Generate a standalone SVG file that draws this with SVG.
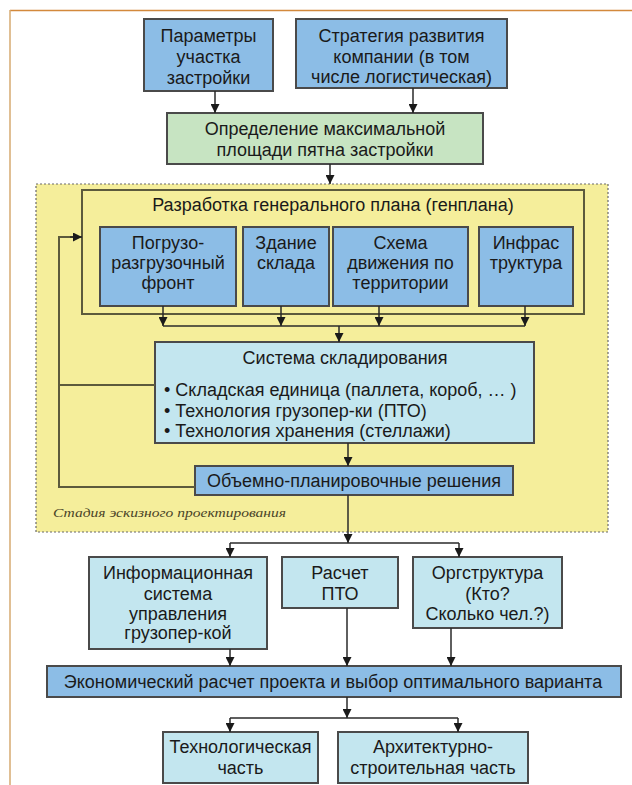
<svg xmlns="http://www.w3.org/2000/svg" width="632" height="785" viewBox="0 0 632 785">
<defs>
<marker id="ah" viewBox="0 0 10 10" markerWidth="9" markerHeight="9" refX="10" refY="5" orient="auto" markerUnits="userSpaceOnUse">
<path d="M0,0 L10,5 L0,10 z" fill="#1a1a1a"/>
</marker>
<style>
.t{font-family:"Liberation Sans",Arial,sans-serif;font-size:18px;fill:#1a1a1a;text-anchor:middle}
.tl{font-family:"Liberation Sans",Arial,sans-serif;font-size:18px;fill:#1a1a1a}
.blue{fill:#8cbde6;stroke:#4a4a4a;stroke-width:2}
.cyan{fill:#c3e6ef;stroke:#4a4a4a;stroke-width:2}
.green{fill:#c7e4c2;stroke:#4a4a4a;stroke-width:2}
.c{fill:none;stroke:#2a2a2a;stroke-width:1.5}
.a{fill:none;stroke:#2a2a2a;stroke-width:1.5;marker-end:url(#ah)}
.fb{fill:none;stroke:#5c5a3c;stroke-width:2}
</style>
</defs>
<rect width="632" height="785" fill="#ffffff"/>
<line x1="10" y1="10.5" x2="632" y2="10.5" stroke="#d3893c" stroke-width="1.5"/>
<line x1="10" y1="10" x2="10" y2="785" stroke="#d6aa70" stroke-width="1.5"/>

<g id="stage">
<rect x="36" y="184" width="572" height="348" fill="#f5ee9b" stroke="#6a6a6a" stroke-width="1.2" stroke-dasharray="2,2"/>
<text x="53" y="517" font-family="Liberation Serif,serif" font-style="italic" font-size="13" fill="#4a4428" textLength="233" lengthAdjust="spacingAndGlyphs">Стадия эскизного проектирования</text>
</g>

<g id="n1"><rect class="blue" x="144" y="19" width="129" height="72"/>
<text class="t" x="208.5" y="42">Параметры</text><text class="t" x="208.5" y="63">участка</text><text class="t" x="208.5" y="84">застройки</text></g>
<g id="n2"><rect class="blue" x="296" y="19" width="211" height="69"/>
<text class="t" x="401.5" y="42">Стратегия развития</text><text class="t" x="401.5" y="63">компании (в том</text><text class="t" x="401.5" y="83">числе логистическая)</text></g>
<g id="n3"><rect class="green" x="167" y="113" width="316" height="51"/>
<text class="t" x="325" y="135">Определение максимальной</text><text class="t" x="325" y="156">площади пятна застройки</text></g>

<g id="genplan"><rect x="82" y="190" width="502" height="124" fill="none" stroke="#5c5a3c" stroke-width="2"/>
<text class="t" x="333" y="211">Разработка генерального плана (генплана)</text></g>
<g id="n4"><rect class="blue" x="100" y="227" width="136" height="79"/>
<text class="t" x="168" y="249">Погрузо-</text><text class="t" x="168" y="269">разгрузочный</text><text class="t" x="168" y="289">фронт</text></g>
<g id="n5"><rect class="blue" x="243" y="227" width="86" height="79"/>
<text class="t" x="286" y="249">Здание</text><text class="t" x="286" y="269">склада</text></g>
<g id="n6"><rect class="blue" x="333" y="227" width="135" height="79"/>
<text class="t" x="400.5" y="249">Схема</text><text class="t" x="400.5" y="269">движения по</text><text class="t" x="400.5" y="289">территории</text></g>
<g id="n7"><rect class="blue" x="479" y="227" width="94" height="79"/>
<text class="t" x="526" y="249">Инфрас</text><text class="t" x="526" y="269">труктура</text></g>

<g id="n8"><rect class="cyan" x="155" y="342" width="379" height="101"/>
<text class="t" x="345" y="364">Система складирования</text>
<text class="tl" x="164" y="396">• Складская единица (паллета, короб, … )</text>
<text class="tl" x="164" y="417">• Технология грузопер-ки (ПТО)</text>
<text class="tl" x="164" y="437">• Технология хранения (стеллажи)</text></g>
<g id="n9"><rect class="blue" x="195" y="466" width="318" height="29"/>
<text class="t" x="354" y="487">Объемно-планировочные решения</text></g>

<g id="n10"><rect class="cyan" x="89" y="557" width="178" height="92"/>
<text class="t" x="178" y="579">Информационная</text><text class="t" x="178" y="600">система</text><text class="t" x="178" y="620">управления</text><text class="t" x="178" y="639">грузопер-кой</text></g>
<g id="n11"><rect class="cyan" x="282" y="557" width="116" height="51"/>
<text class="t" x="340" y="579">Расчет</text><text class="t" x="340" y="600">ПТО</text></g>
<g id="n12"><rect class="cyan" x="413" y="557" width="149" height="71"/>
<text class="t" x="487.5" y="579">Оргструктура</text><text class="t" x="487.5" y="600">(Кто?</text><text class="t" x="487.5" y="620">Сколько чел.?)</text></g>
<g id="n13"><rect class="blue" x="47" y="666" width="574" height="31"/>
<text class="t" x="333" y="688">Экономический расчет проекта и выбор оптимального варианта</text></g>
<g id="n14"><rect class="cyan" x="163" y="732" width="155" height="51"/>
<text class="t" x="240.5" y="753">Технологическая</text><text class="t" x="240.5" y="774">часть</text></g>
<g id="n15"><rect class="cyan" x="338" y="732" width="190" height="51"/>
<text class="t" x="433" y="753">Архитектурно-</text><text class="t" x="433" y="774">строительная часть</text></g>

<g id="connectors">
<path class="a" d="M215,91 V113"/>
<path class="a" d="M413,88 V113"/>
<path class="a" d="M330,164 V184"/>
<path class="a" d="M163,306 V326"/>
<path class="a" d="M281,306 V326"/>
<path class="a" d="M379,306 V326"/>
<path class="a" d="M525,306 V326"/>
<path class="c" d="M163,326 H525"/>
<path class="a" d="M339,326 V342"/>
<path class="a" d="M348,443 V466"/>
<path class="fb" d="M155,385 H59"/>
<path class="fb" d="M195,487 H59 V237 H74"/>
<path class="a" d="M70,237 H82"/>
<path class="a" d="M348,495 V543"/>
<path class="c" d="M230,543 H459"/>
<path class="a" d="M230,543 V557"/>
<path class="a" d="M459,543 V557"/>
<path class="a" d="M230,649 V666"/>
<path class="a" d="M347,608 V666"/>
<path class="a" d="M451,628 V666"/>
<path class="a" d="M347,697 V718"/>
<path class="c" d="M230,718 H458"/>
<path class="a" d="M230,718 V732"/>
<path class="a" d="M458,718 V732"/>
</g>
</svg>
